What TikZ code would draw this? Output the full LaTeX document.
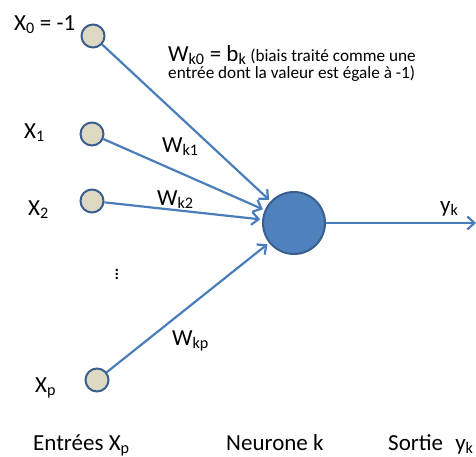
\documentclass[tikz,border=0pt]{standalone}
\usepackage{fontspec}
\setmainfont{Carlito}
\usetikzlibrary{arrows.meta}
\definecolor{bordure}{HTML}{3A5F8E}
\definecolor{beige}{HTML}{DDD9C3}
\definecolor{bleu}{HTML}{4F81BD}
\definecolor{trait}{HTML}{4A7EBB}
\begin{document}
\begin{tikzpicture}[x=1pt,y=-1pt,
entree/.style={circle,draw=bordure,fill=beige,line width=2pt,minimum size=23pt,inner sep=0pt},
neurone/.style={circle,draw=bordure,fill=bleu,line width=2pt,minimum size=62pt,inner sep=0pt},
lien/.style={draw=trait,line width=2.2pt,-{Straight Barb[length=7pt,width=13pt]},shorten >=2pt},
etiq/.style={font=\fontsize{23}{25}\selectfont,inner sep=0pt,anchor=base west}]
\useasboundingbox (0,0) rectangle (476,456);
\foreach \nom/\x/\y in {x0/93/36,x1/92/134,x2/92/201,xp/97/380}{
\node [entree] (\nom) at (\x,\y) {};
}
\node [neurone] (n) at (294,223) {};
\coordinate (sortie) at (476,223);
\foreach \nom in {x0,x1,x2,xp}{
\draw [lien] (\nom) -- (n);
}
\draw [lien, shorten >=0pt] (n) -- (sortie);
\node [etiq] (l0) at (14,30) {X\textsubscript{0} = -1};
\node [etiq] (l1) at (24,138) {X\textsubscript{1}};
\node [etiq] (l2) at (28,215) {X\textsubscript{2}};
\node [etiq] (lp) at (35,392) {X\textsubscript{p}};
\node [inner sep=0pt, font=\fontsize{20}{20}\selectfont] (pts) at (117,271) {$\vdots$};
\node [etiq, align=left, font=\fontsize{17.2}{17}\selectfont] (w0) at (168,78)
  {{\fontsize{23}{22}\selectfont W\textsubscript{k0} = b\textsubscript{k}} (biais traité comme une\\entrée dont la valeur est égale à -1)};
\node [etiq] (w1) at (162,152) {W\textsubscript{k1}};
\node [etiq] (w2) at (157,205) {W\textsubscript{k2}};
\node [etiq] (wp) at (172,345) {W\textsubscript{kp}};
\node [etiq] (yk) at (440,212) {y\textsubscript{k}};
\node [etiq] (tin) at (33,450) {Entrées X\textsubscript{p}};
\node [etiq] (tneur) at (226,450) {Neurone k};
\node [etiq] (tout) at (388,450) {Sortie\hspace{0.3em} y\textsubscript{k}};
\end{tikzpicture}
\end{document}
